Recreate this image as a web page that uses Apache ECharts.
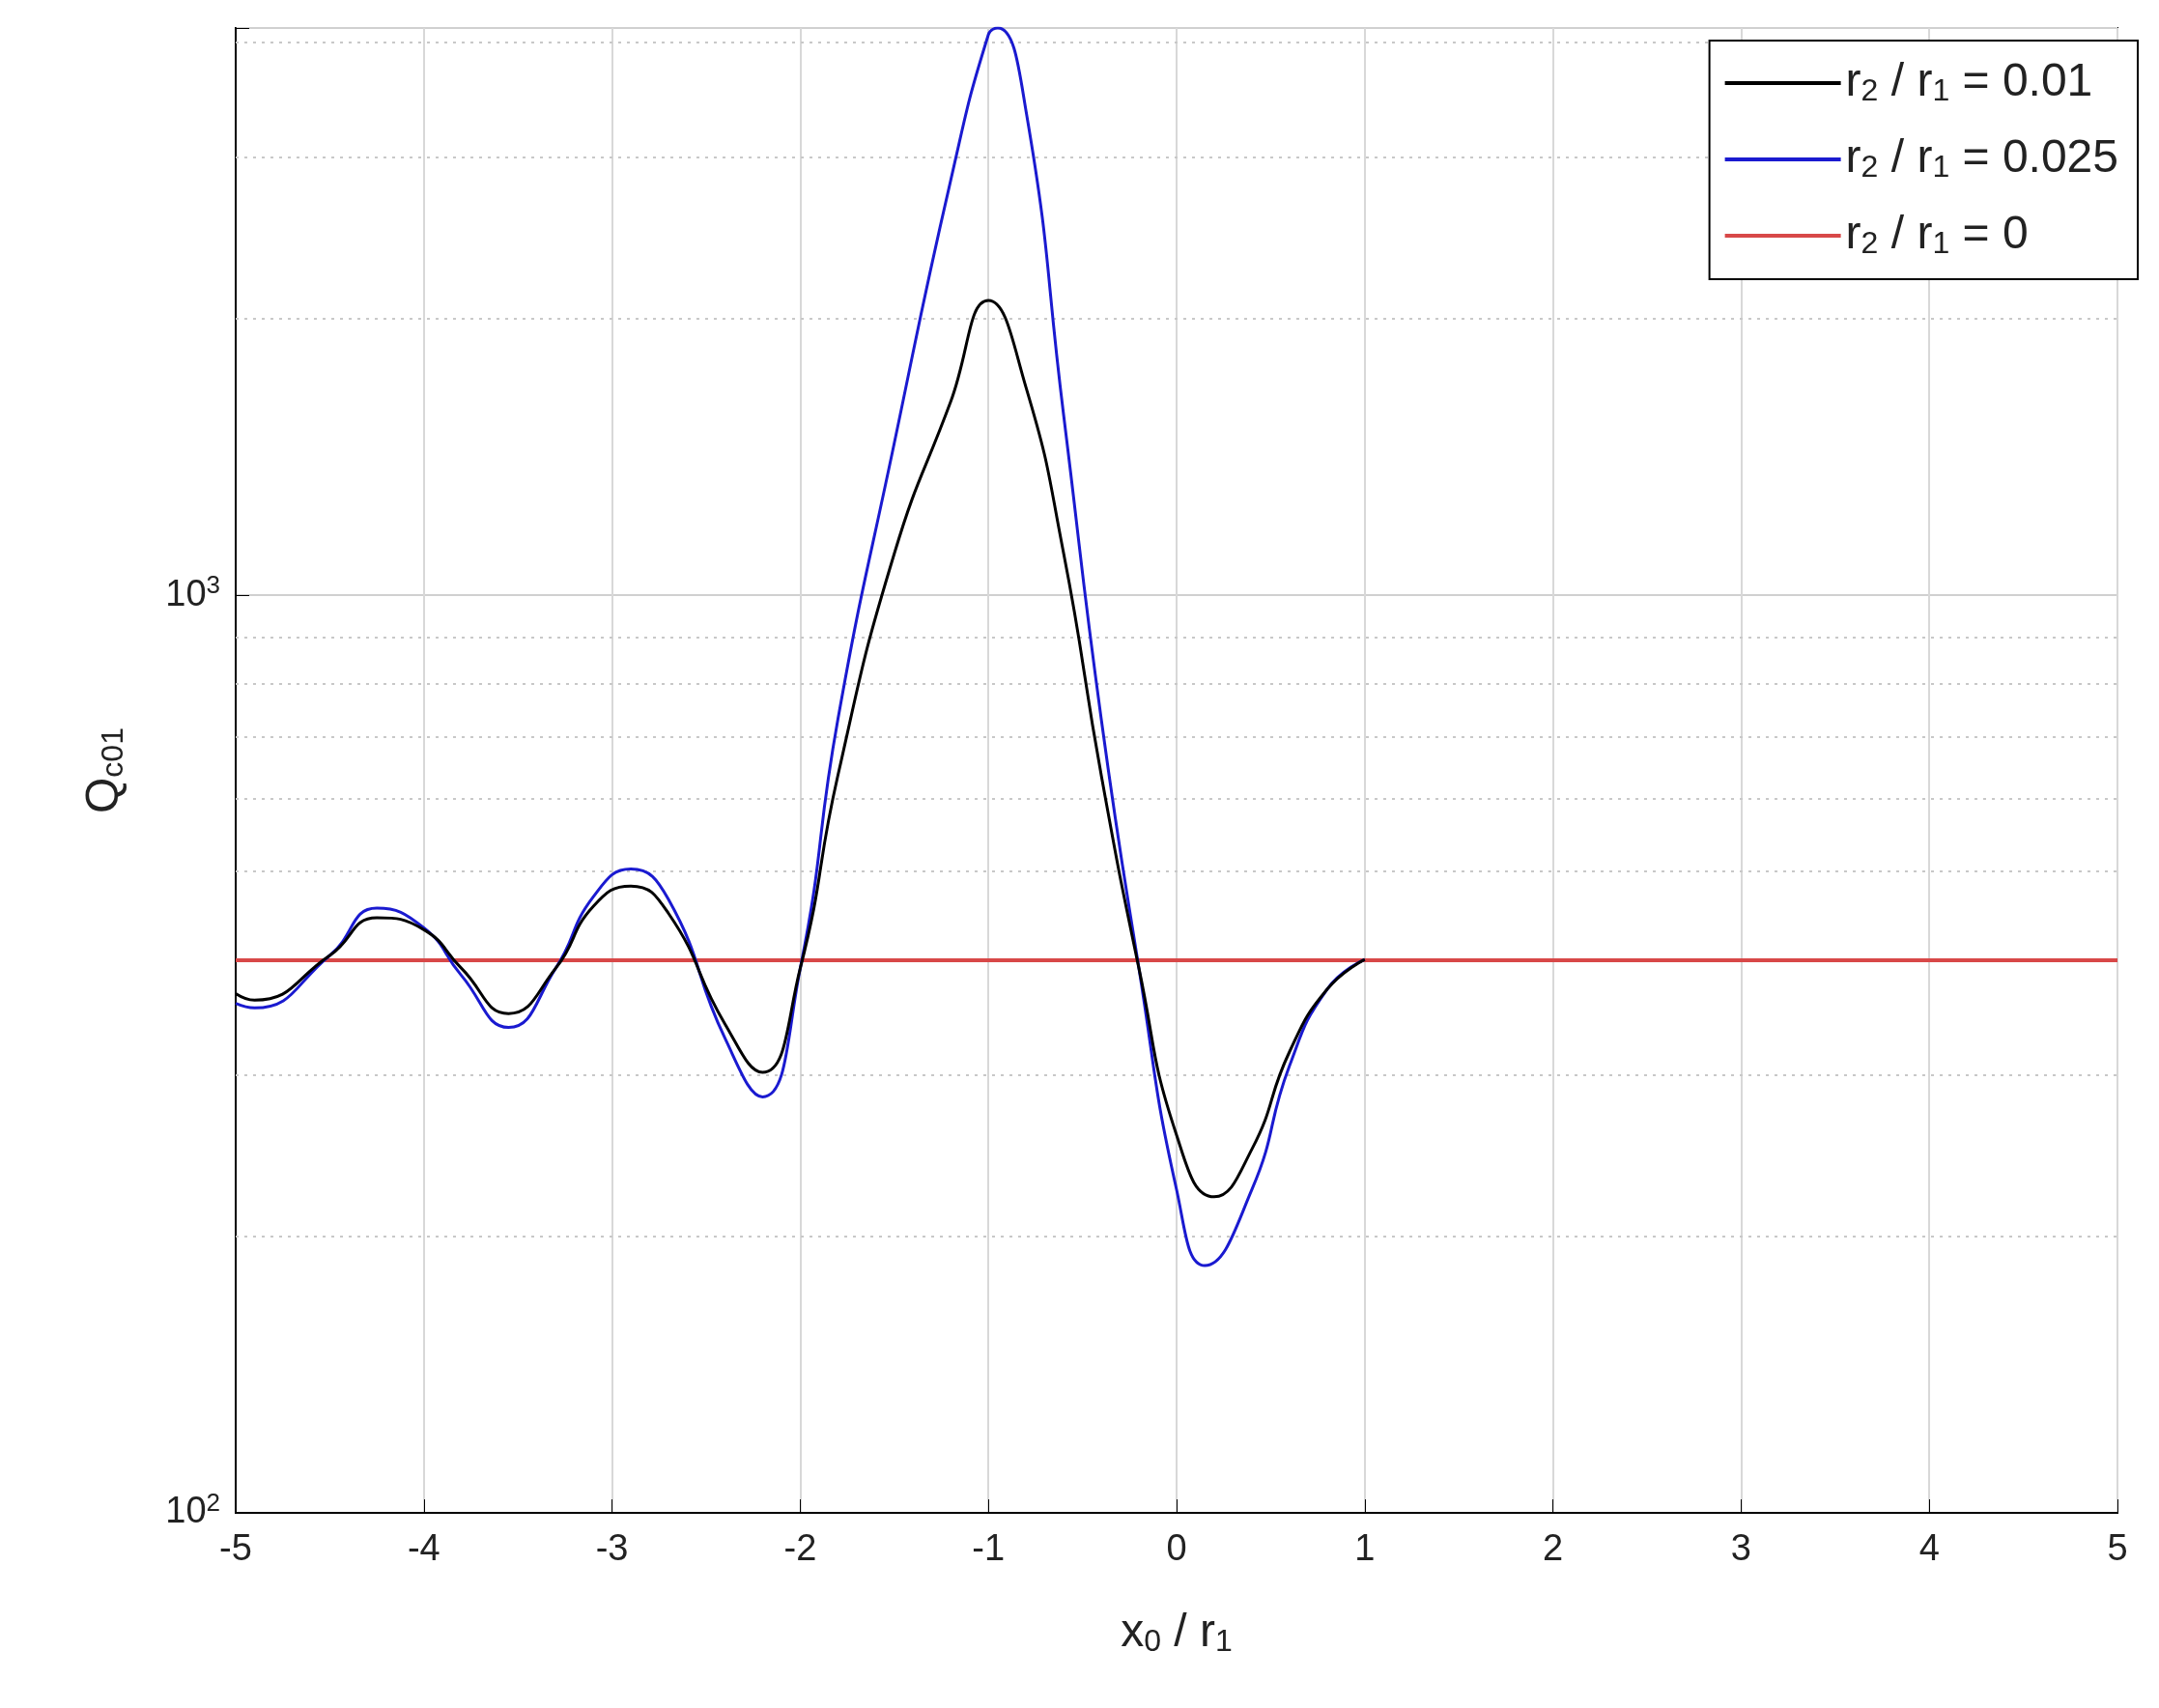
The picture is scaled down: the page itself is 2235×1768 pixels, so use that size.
<!DOCTYPE html>
<html><head><meta charset="utf-8">
<script src="https://cdn.jsdelivr.net/npm/echarts@6/dist/echarts.min.js"></script>
<style>html,body{margin:0;padding:0;background:#fff}#c{width:2235px;height:1768px}</style>
</head><body><div id="c"></div>
<script>
const xBlack = [-5,-4.9,-4.5,-4.25,-4.0,-3.8,-3.55,-3.3,-3.1,-2.9,-2.7,-2.4,-2.2,-2.0,-1.8,-1.5,-1.2,-1.0,-0.8,-0.6,-0.4,-0.2,0.0,0.2,0.4,0.6,0.8,1.0];
const yBlack = [368,362,405,445,432,392,350,392,458,482,450,341,302,392,636,1110,1626,2095,1684,1110,636,392,258,221,249,318,372,401];
const xBlue = [-5,-4.9,-4.5,-4.25,-4.0,-3.8,-3.55,-3.3,-3.1,-2.9,-2.7,-2.4,-2.2,-2.0,-1.8,-1.5,-1.2,-1.0,-0.95,-0.8,-0.6,-0.4,-0.2,0.0,0.15,0.4,0.6,0.8,1.0];
const yBlue = [359,355,405,456,434,385,338,392,469,503,466,329,284,392,732,1465,2834,4083,4150,3370,1570,732,392,225,186,225,307,372,401];
const xRed = [-5,5];
const yRed = [400,400];
const dottedLevels = [200,300,400,500,600,700,800,900,2000,3000,4000];
const legendNames = ['r₂ / r₁ = 0.01','r₂ / r₁ = 0.025','r₂ / r₁ = 0'];
const legendVals = ['0.01','0.025','0'];

const zip=(a,b)=>a.map((v,i)=>[v,b[i]]);
const chart = echarts.init(document.getElementById('c'));
const rich={n:{fontSize:48,color:'#222',fontFamily:'Liberation Sans'},s:{fontSize:32,verticalAlign:'bottom',padding:[18,0,0,0],color:'#222',fontFamily:'Liberation Sans'}};
chart.setOption({
  animation:false,
  grid:{left:244,right:43,top:29,bottom:202,show:true,borderColor:'#000',borderWidth:2,containLabel:false},
  legend:{
    orient:'vertical',right:22,top:42,backgroundColor:'#fff',borderColor:'#000',borderWidth:2,
    padding:[20,20,20,16],itemGap:30,itemWidth:120,itemHeight:4,icon:'rect',
    data:legendNames,
    formatter:(n)=>{const i=legendNames.indexOf(n);return '{n|r}{s|2}{n| / r}{s|1}{n| = '+legendVals[i]+'}';},
    textStyle:{rich:rich}
  },
  xAxis:{type:'value',min:-5,max:5,interval:1,
    name:'{n|x}{s|0}{n| / r}{s|1}',nameLocation:'middle',nameGap:100,nameTextStyle:{rich:rich},
    axisLine:{onZero:false,lineStyle:{color:'#000',width:2}},axisTick:{inside:true,length:14,lineStyle:{color:'#000'}},
    axisLabel:{fontSize:38,color:'#222',margin:20,fontFamily:'Liberation Sans'},
    splitLine:{lineStyle:{color:'#d8d8d8',width:2}}},
  yAxis:{type:'log',logBase:10,min:100,max:4150,
    name:'{n|Q}{s|c01}',nameLocation:'middle',nameGap:110,nameRotate:90,nameTextStyle:{rich:rich},
    axisLine:{onZero:false,lineStyle:{color:'#000',width:2}},axisTick:{inside:true,length:14,lineStyle:{color:'#000'}},
    axisLabel:{fontFamily:'Liberation Sans',margin:16,
      formatter:(v)=>{const e=Math.round(Math.log10(v));return Math.abs(Math.log10(v)-e)<1e-6?'{b|10}{e|'+e+'}':'';},
      rich:{b:{fontSize:38,color:'#222'},e:{fontSize:26,verticalAlign:'top',padding:[0,0,18,0],color:'#222'}}},
    splitLine:{lineStyle:{color:'#d0d0d0',width:2}}},
  series:[
    {name:legendNames[0],type:'line',data:zip(xBlack,yBlack),smooth:true,showSymbol:false,lineStyle:{color:'#000',width:3},itemStyle:{color:'#000'},z:4},
    {name:legendNames[1],type:'line',data:zip(xBlue,yBlue),smooth:true,showSymbol:false,lineStyle:{color:'#1a1ad0',width:3},itemStyle:{color:'#1a1ad0'},z:3},
    {name:legendNames[2],type:'line',data:zip(xRed,yRed),showSymbol:false,lineStyle:{color:'#d84848',width:4},itemStyle:{color:'#d84848'},z:2,
      markLine:{silent:true,symbol:'none',label:{show:false},lineStyle:{color:'#c8c8c8',type:[3,6],width:2},data:dottedLevels.map(v=>({yAxis:v})),z:1}}
  ]
});
</script></body></html>
